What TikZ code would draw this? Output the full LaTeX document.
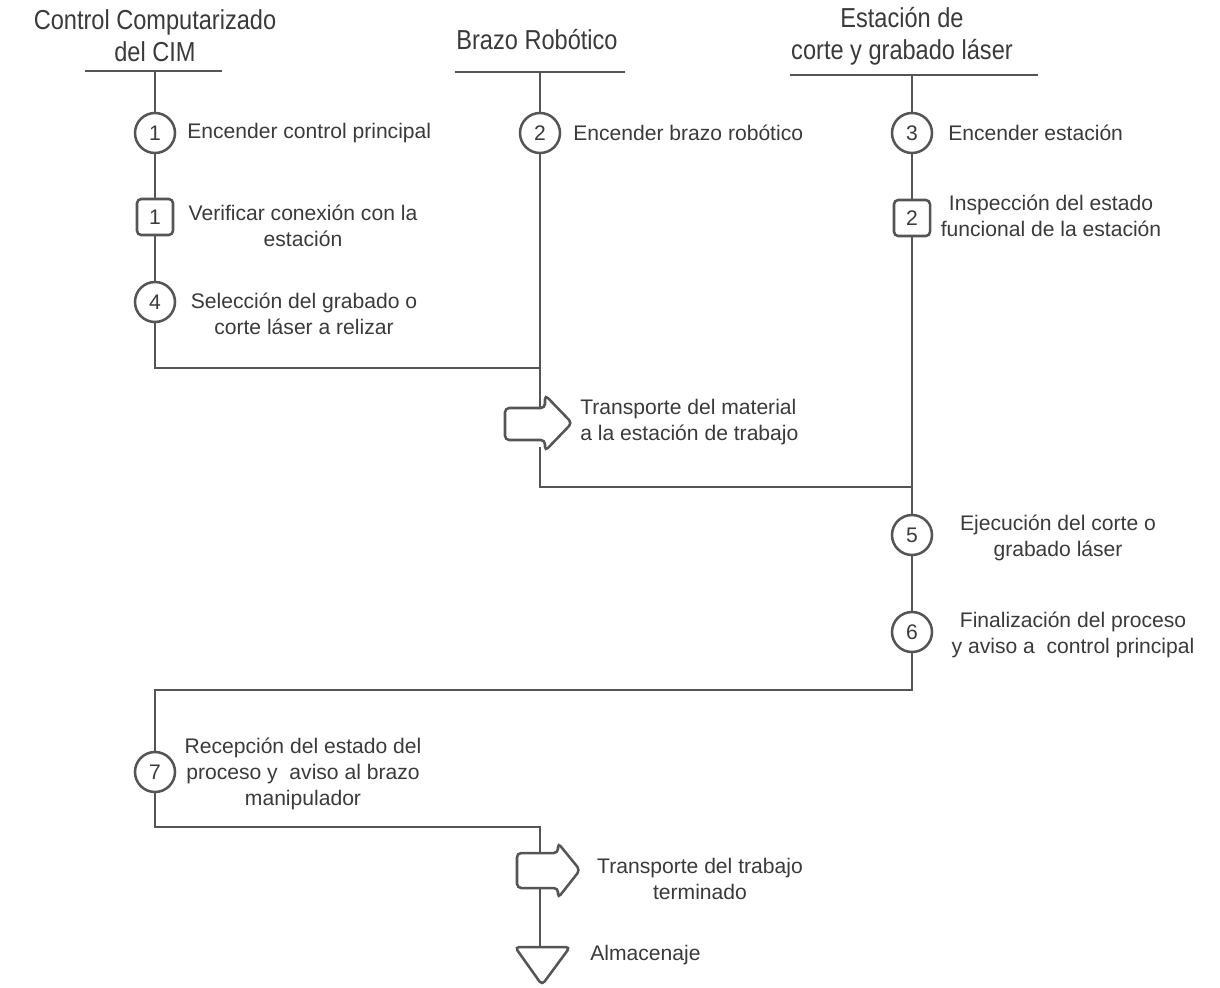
\documentclass[tikz,border=0pt]{standalone}
\usepackage{fontspec}
\setmainfont{Liberation Sans}
\definecolor{linegray}{HTML}{555555}
\definecolor{textgray}{HTML}{3A3A3A}
\newcommand{\narrowtext}[1]{\scalebox{0.86}[1]{#1}}
\tikzstyle{lane}=[line width=2pt, linegray]
\tikzstyle{stepcircle}=[circle, draw=linegray, line width=1.8pt, fill=white, minimum size=1cm, inner sep=0pt, text=textgray, font=\fontsize{15}{18}\selectfont]
\tikzstyle{stepsquare}=[rectangle, rounded corners=3pt, draw=linegray, line width=1.8pt, fill=white, minimum size=0.9cm, inner sep=0pt, text=textgray, font=\fontsize{15}{18}\selectfont]
\tikzstyle{label}=[text=textgray, align=center, inner sep=0pt, font=\fontsize{15}{18.4}\selectfont]
\tikzstyle{header}=[text=textgray, align=center, inner sep=0pt, font=\fontsize{19.5}{22.7}\selectfont]
\tikzstyle{blockarrow}=[line width=1.8pt, draw=linegray, fill=white, rounded corners=3pt]

\begin{document}
\begin{tikzpicture}[>=latex,x=0.025cm,y=-0.025cm]
    \useasboundingbox (0,0) rectangle (1220,987);

    % Headers
    \draw (155,36) node[header] (hcim) {\narrowtext{Control Computarizado}\\\narrowtext{del CIM}};
    \draw (537,40) node[header] (hbrazo) {\narrowtext{Brazo Robótico}};
    \draw (902,36) node[header] (hest) {\narrowtext{Estación de}\\\narrowtext{corte y grabado láser}};
    \draw[lane] (85,71) -- (222,71);
    \draw[lane] (455,72) -- (625,72);
    \draw[lane] (790,75) -- (1038,75);
    \coordinate (lcim) at (155,71);
    \coordinate (lbrazo) at (540,72);
    \coordinate (lest) at (912,75);

    % Corners
    \coordinate (k1) at (155,368);
    \coordinate (k2) at (540,368);
    \coordinate (k3) at (540,487);
    \coordinate (k4) at (912,487);
    \coordinate (k5) at (912,690);
    \coordinate (k6) at (155,690);
    \coordinate (k7) at (155,827);
    \coordinate (k8) at (540,827);

    % Transport arrows
    \coordinate (t1in) at (540,408);
    \coordinate (t1out) at (540,447);
    \coordinate (t2in) at (540,853);
    \coordinate (t2out) at (540,888);
    \coordinate (store) at (540,947);

    % Lines
    \draw[lane] (lcim) -- (k1) -- (k2);
    \draw[lane] (lbrazo) -- (t1in);
    \draw[lane] (t1out) -- (k3) -- (k4);
    \draw[lane] (lest) -- (k5) -- (k6) -- (k7) -- (k8) -- (t2in);
    \draw[lane] (t2out) -- (store);

    \draw[blockarrow] (505,408) -- (545,408) -- (545,395) -- (572,423)
    -- (545,451) -- (545,440) -- (505,440) -- cycle;
    \draw[blockarrow] (517,853) -- (558,853) -- (558,843) -- (580,870)
    -- (558,898) -- (558,888) -- (517,888) -- cycle;
    \draw[blockarrow] (515,947) -- (570,947) -- (542,985) -- cycle;

    % Steps
    \draw (155,133) node[stepcircle] (c1) {1};
    \draw (155,217) node[stepsquare] (s1) {1};
    \draw (155,302) node[stepcircle] (c4) {4};
    \draw (540,133) node[stepcircle] (c2) {2};
    \draw (912,133) node[stepcircle] (c3) {3};
    \draw (912,218) node[stepsquare] (s2) {2};
    \draw (912,535) node[stepcircle] (c5) {5};
    \draw (912,632) node[stepcircle] (c6) {6};
    \draw (155,772) node[stepcircle] (c7) {7};

    % Labels
    \draw (187,133) node[label,anchor=west] (tc1) {Encender control principal};
    \draw (303,226) node[label] (ts1) {Verificar conexión con la\\estación};
    \draw (304,314) node[label] (tc4) {Selección del grabado o\\corte láser a relizar};
    \draw (573,133) node[label,anchor=west] (tc2) {Encender brazo robótico};
    \draw (580,422) node[label,anchor=west,align=left] (tt1) {Transporte del material\\a la estación de trabajo};
    \draw (948,133) node[label,anchor=west] (tc3) {Encender estación};
    \draw (1051,216) node[label] (ts2) {Inspección del estado\\funcional de la estación};
    \draw (1058,538) node[label] (tc5) {Ejecución del corte o\\grabado láser};
    \draw (1073,635) node[label] (tc6) {Finalización del proceso\\y aviso a\ \ control principal};
    \draw (303,774) node[label] (tc7) {Recepción del estado del\\proceso y\ \ aviso al brazo\\manipulador};
    \draw (700,879) node[label] (tt2) {Transporte del trabajo\\terminado};
    \draw (590,955) node[label,anchor=west] (tst) {Almacenaje};

  \end{tikzpicture}
\end{document}
